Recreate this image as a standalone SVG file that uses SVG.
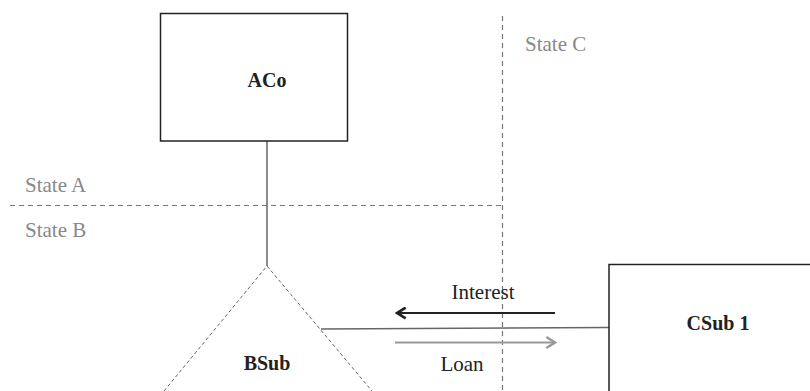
<svg xmlns="http://www.w3.org/2000/svg" width="810" height="391" viewBox="0 0 810 391">
  <style>
    .box { fill: #fff; stroke: #222; stroke-width: 1.5; }
    .border { fill: none; stroke: #777; stroke-width: 1.2; stroke-dasharray: 5 4; }
    .tri { fill: none; stroke: #666; stroke-width: 1; stroke-dasharray: 3.5 2.5; }
    .link { fill: none; stroke: #666; stroke-width: 1.5; }
    .title { font-family: "Liberation Serif", serif; font-weight: bold; font-size: 20px; fill: #222; text-anchor: middle; }
    .state { font-family: "Liberation Serif", serif; font-size: 21px; fill: #888; }
    .flow { font-family: "Liberation Serif", serif; font-size: 21px; fill: #222; text-anchor: middle; }
  </style>
  <defs>
    <marker id="headDark" viewBox="0 0 12 12" refX="10" refY="6" markerWidth="13" markerHeight="13" markerUnits="userSpaceOnUse" orient="auto">
      <path d="M2 1 L10 6 L2 11" fill="none" stroke="#222" stroke-width="2.5"/>
    </marker>
    <marker id="headGrey" viewBox="0 0 12 12" refX="10" refY="6" markerWidth="13" markerHeight="13" markerUnits="userSpaceOnUse" orient="auto">
      <path d="M2 1 L10 6 L2 11" fill="none" stroke="#999" stroke-width="2.2"/>
    </marker>
  </defs>

  <!-- jurisdiction borders -->
  <g id="borders">
    <line class="border" x1="10" y1="205.5" x2="502" y2="205.5"/>
    <line class="border" x1="502.5" y1="16" x2="502.5" y2="391"/>
    <text class="state" x="25" y="192">State A</text>
    <text class="state" x="25" y="237">State B</text>
    <text class="state" x="525" y="51">State C</text>
  </g>

  <!-- connectors -->
  <g id="connectors">
    <line class="link" x1="267" y1="141" x2="267" y2="266"/>
    <line class="link" x1="321" y1="329" x2="609" y2="327.5"/>
    <line x1="555" y1="313" x2="397" y2="313" stroke="#222" stroke-width="2" marker-end="url(#headDark)"/>
    <line x1="395" y1="342.5" x2="555" y2="342.5" stroke="#999" stroke-width="2" marker-end="url(#headGrey)"/>
    <text class="flow" x="483" y="299">Interest</text>
    <text class="flow" x="462" y="371">Loan</text>
  </g>

  <g id="aco">
    <rect class="box" x="160.5" y="13.5" width="187" height="127.5"/>
    <text class="title" x="267" y="87">ACo</text>
  </g>

  <g id="bsub">
    <path class="tri" d="M164 391 L267 266 L372 391"/>
    <text class="title" x="267" y="370">BSub</text>
  </g>

  <g id="csub1">
    <path class="box" d="M609 392 L609 264.5 L811 264.5"/>
    <text class="title" x="718" y="330">CSub 1</text>
  </g>
</svg>
